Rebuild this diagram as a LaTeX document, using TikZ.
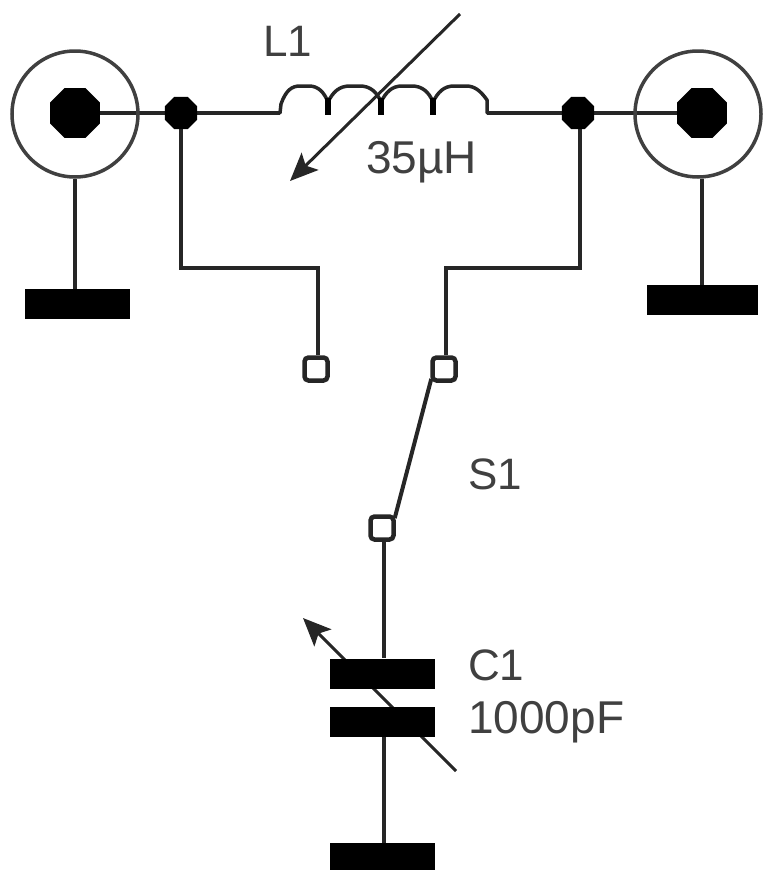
\documentclass[tikz,border=0pt]{standalone}
\usepackage{fontspec}
\setmainfont{Liberation Sans}
\usetikzlibrary{shapes.geometric,arrows.meta,backgrounds}
\tikzset{
  wire/.style={draw=black!85,line width=4pt,line join=miter},
  thin wire/.style={draw=black!85,line width=3.5pt},
  shield/.style={circle,draw=black!75,line width=3.5pt,inner sep=0pt,minimum size=126pt},
  core/.style={regular polygon,regular polygon sides=8,fill=black,inner sep=0pt,minimum size=54pt},
  junction/.style={regular polygon,regular polygon sides=8,fill=black,inner sep=0pt,minimum size=35pt},
  plate/.style={rectangle,fill=black,inner sep=0pt,minimum width=#1,minimum height=30pt},
  plate/.default=105pt,
  terminal/.style={rectangle,rounded corners=4pt,draw=black!85,line width=4.5pt,fill=white,inner sep=0pt,minimum size=23pt},
  label/.style={inner sep=0pt,text=black!75,font=\fontsize{44}{50}\selectfont},
  big label/.style={label,font=\fontsize{46}{50}\selectfont},
  adjust/.style={draw=black!85,line width=3pt,-{Stealth[length=28pt,width=24pt,inset=6pt]}}
}
\begin{document}
\begin{tikzpicture}[x=1pt,y=-1pt]
\useasboundingbox (0,0) rectangle (766,870);
% coaxial connectors
\node[shield] (shL) at (75,114) {};
\node[shield] (shR) at (698,114) {};
\node[core] (coreL) at (75,113) {};
\node[core] (coreR) at (702,113) {};
% junctions
\node[junction] (jL) at (181,113) {};
\node[junction] (jR) at (578,113) {};
% grounds
\node[plate] (gndL) at (77.5,304) {};
\node[plate=111pt] (gndR) at (702.5,300) {};
\node[plate] (gndC) at (382.5,858) {};
% capacitor
\node[plate] (capT) at (382.5,673.5) {};
\node[plate] (capB) at (382.5,722) {};
% terminals
\node[terminal] (tL) at (316,369) {};
\node[terminal] (tR) at (444,369) {};
\node[terminal] (tC) at (382,528) {};
% inductor ends and routing points
\coordinate (indA) at (280,113);
\coordinate (indB) at (487,113);
\coordinate (bendL) at (181,268);
\coordinate (bendL2) at (318,268);
\coordinate (bendR) at (580,268);
\coordinate (bendR2) at (446,268);
\coordinate (wireC) at (384,528);
\coordinate (arrLa) at (460,14);
\coordinate (arrLb) at (290,181);
\coordinate (arrCa) at (456,771);
\coordinate (arrCb) at (303,618);
% wires
\begin{scope}[on background layer]
\draw[thin wire] (coreL.center) -- (jL.center);
\draw[thin wire] (coreR.center) -- (jR.center);
\draw[thin wire] (jL.center) -- (indA);
\draw[thin wire] (indB) -- (jR.center);
\draw[wire] (shL.south) -- (shL.south |- gndL.north);
\draw[wire] (shR.south -| coreR) -- (coreR |- gndR.north);
\draw[wire] (jL.center) -- (bendL) -- (bendL2) -- (bendL2 |- tL.north);
\draw[wire] (jR.center -| bendR) -- (bendR) -- (bendR2) -- (bendR2 |- tR.north);
\draw[wire,shorten <=-4pt,shorten >=-4pt] (tR.south west) -- (tC.north east);
\draw[wire] (wireC) -- (wireC |- capT.north);
\draw[wire] (wireC |- capB.south) -- (wireC |- gndC.north);
\draw[adjust] (arrCa) -- (arrCb);
\end{scope}
% inductor coil
\draw[thin wire,line cap=round,line join=round]
  (indA) -- (281,104) .. controls (286,90) and (292,86) .. (300,86) -- (309,86)
  .. controls (318,86) and (324,92) .. (328,102)
  .. controls (333,92) and (339,86) .. (350,86) -- (360,86)
  .. controls (370,86) and (377,92) .. (381,102)
  .. controls (386,92) and (392,86) .. (402,86) -- (412,86)
  .. controls (422,86) and (429,92) .. (433,102)
  .. controls (438,92) and (444,86) .. (454,86) -- (466,86)
  .. controls (474,86) and (480,90) .. (487,100) -- (indB);
\foreach \cx in {328,381,433}
  \draw[line width=6pt,draw=black] (\cx,98) -- (\cx,115);
% adjust arrow of the inductor
\draw[adjust] (arrLa) -- (arrLb);
% labels
\node[label] (lbL) at (288,41) {L1};
\node[big label,anchor=base west] (lbLv) at (366,173) {35µH};
\node[label,anchor=base west] (lbS) at (468,489) {S1};
\node[label,anchor=base west] (lbC) at (468,680) {C1};
\node[big label,anchor=base west] (lbCv) at (468,733) {1000pF};
\end{tikzpicture}
\end{document}
